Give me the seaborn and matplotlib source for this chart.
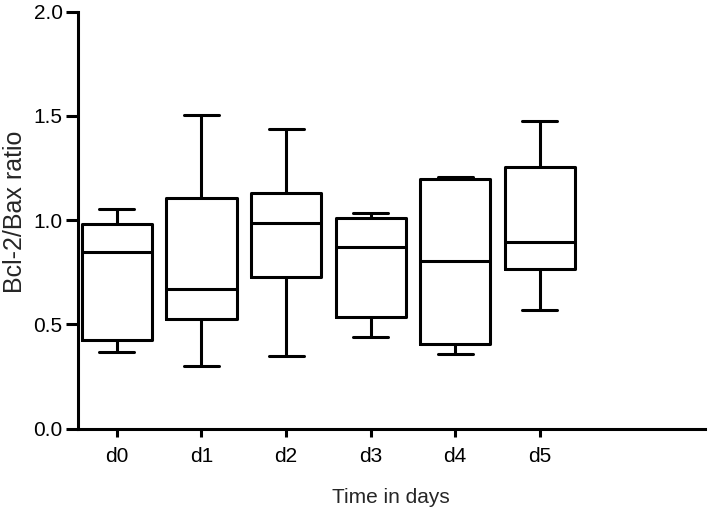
import numpy as np
import pandas as pd
import matplotlib
matplotlib.use("Agg")
import matplotlib.pyplot as plt
import seaborn as sns

# Five-number summaries (min, q1, median, q3, max)
days = ["d0", "d1", "d2", "d3", "d4", "d5"]
wmin = [0.369, 0.300, 0.350, 0.441, 0.359, 0.569]
q1 = [0.423, 0.526, 0.726, 0.537, 0.406, 0.766]
median = [0.846, 0.671, 0.988, 0.870, 0.806, 0.897]
q3 = [0.980, 1.108, 1.132, 1.012, 1.198, 1.257]
wmax = [1.054, 1.503, 1.436, 1.033, 1.206, 1.476]

rows = []
for i, d in enumerate(days):
    for v in (wmin[i], q1[i], median[i], q3[i], wmax[i]):
        rows.append({"day": d, "ratio": v})
df = pd.DataFrame(rows)

sns.set_style("ticks")
plt.rcParams["font.family"] = ["Liberation Sans", "DejaVu Sans"]

fig = plt.figure(figsize=(7.09, 5.12), dpi=100)
ax = fig.add_axes([0.110, 0.163, 0.884, 0.814])

lw = 2.2
sns.boxplot(data=df, x="day", y="ratio", order=days, whis=np.inf, width=0.83,
            fill=False, color="black", linecolor="black", linewidth=lw, ax=ax)

ax.set_xlim(-0.46, 6.95)
ax.set_ylim(0, 2.0)
ax.set_yticks([0.0, 0.5, 1.0, 1.5, 2.0])
ax.set_yticklabels(["0.0", "0.5", "1.0", "1.5", "2.0"])
ax.set_xlabel("Time in days", fontsize=15, labelpad=16)
ax.set_ylabel("Bcl-2/Bax ratio", fontsize=18)
ax.yaxis.set_label_coords(-0.082, 0.52)
ax.tick_params(axis="both", labelsize=15, width=lw, color="black", labelcolor="black")
ax.tick_params(axis="y", length=9, pad=2)
ax.tick_params(axis="x", length=6, pad=7)
sns.despine(ax=ax)
for s in ["left", "bottom"]:
    ax.spines[s].set_linewidth(lw)
    ax.spines[s].set_color("black")

fig.savefig("out.png", dpi=100)
